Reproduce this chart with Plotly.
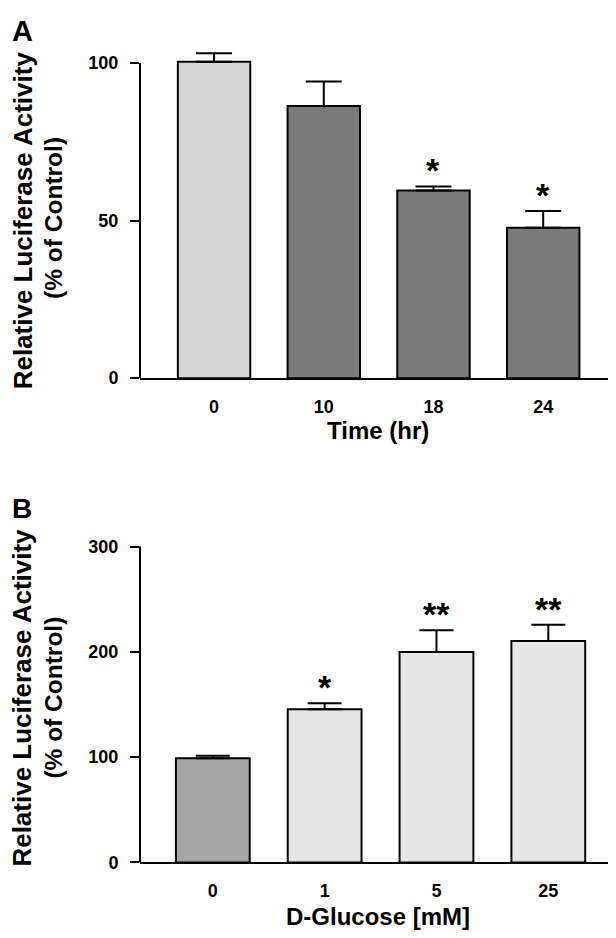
import plotly.graph_objects as go

# ---------------- data ----------------
time_labels = ["0", "10", "18", "24"]
luc_time = [100.4, 86.3, 59.5, 47.7]
luc_time_err = [2.7, 7.8, 1.3, 5.3]
time_sig = ["", "", "*", "*"]
time_colors = ["#d7d7d7", "#7a7a7a", "#7a7a7a", "#7a7a7a"]
time_yticks = [0, 50, 100]

glucose_labels = ["0", "1", "5", "25"]
luc_glucose = [98.9, 145.5, 199.9, 210.4]
luc_glucose_err = [2.5, 5.6, 20.5, 15.3]
glucose_sig = ["", "*", "**", "**"]
glucose_colors = ["#a6a6a6", "#e6e6e6", "#e6e6e6", "#e6e6e6"]
glucose_yticks = [0, 100, 200, 300]

FONT = "Liberation Sans, Arial, sans-serif"
W, H = 616, 938

fig = go.Figure()

fig.add_trace(go.Bar(
    x=time_labels, y=luc_time, xaxis="x", yaxis="y",
    marker=dict(color=time_colors, line=dict(color="black", width=2)),
    error_y=dict(type="data", array=luc_time_err, arrayminus=[0] * len(luc_time),
                 symmetric=False, color="black", thickness=2, width=18),
    showlegend=False, hoverinfo="x+y",
))
fig.add_trace(go.Bar(
    x=glucose_labels, y=luc_glucose, xaxis="x2", yaxis="y2",
    marker=dict(color=glucose_colors, line=dict(color="black", width=2)),
    error_y=dict(type="data", array=luc_glucose_err, arrayminus=[0] * len(luc_glucose),
                 symmetric=False, color="black", thickness=2, width=17),
    showlegend=False, hoverinfo="x+y",
))

tickfont = dict(family=FONT, size=18, color="black", weight="bold")

def px_x(v):
    return v / W

def px_y(v):
    return (H - v) / H

common_x = dict(type="category", showline=True, linecolor="black", linewidth=2,
                ticks="", tickfont=tickfont, showgrid=False, zeroline=False,
                ticklabelstandoff=11, fixedrange=True)
common_y = dict(showline=False, ticks="outside", ticklen=9, tickwidth=2,
                tickcolor="black", tickfont=tickfont, showgrid=False,
                zeroline=False, ticklabelstandoff=8, fixedrange=True)

fig.update_layout(
    width=W, height=H,
    margin=dict(l=0, r=0, t=0, b=0),
    paper_bgcolor="white", plot_bgcolor="white",
    bargap=0.34,
    font=dict(family=FONT, color="black"),
    xaxis=dict(common_x, domain=[px_x(132), px_x(612)], range=[-0.675, 3.70],
               anchor="y"),
    yaxis=dict(common_y, domain=[px_y(371.7), px_y(35.7)], range=[0, 105],
               tickvals=time_yticks, anchor="x"),
    xaxis2=dict(common_x, domain=[px_x(132), px_x(613)], range=[-0.651, 3.65],
                anchor="y2"),
    yaxis2=dict(common_y, domain=[px_y(863.3), px_y(537.3)], range=[0, 305],
                tickvals=glucose_yticks, anchor="x2"),
)

# y axis lines ending at the top tick
fig.add_shape(type="line", xref="x domain", yref="y", x0=0, x1=0,
              y0=time_yticks[0], y1=time_yticks[-1],
              line=dict(color="black", width=2))
fig.add_shape(type="line", xref="x2 domain", yref="y2", x0=0, x1=0,
              y0=glucose_yticks[0], y1=glucose_yticks[-1],
              line=dict(color="black", width=2))

ann = []
star_font = dict(family=FONT, size=34, color="black", weight="bold")
# significance stars (x given as category index)
for i, (v, e, s) in enumerate(zip(luc_time, luc_time_err, time_sig)):
    if s:
        ann.append(dict(x=i, y=v + e, xref="x", yref="y", text=s, showarrow=False,
                        yanchor="bottom", yshift=-5, font=star_font))
for i, (v, e, s) in enumerate(zip(luc_glucose, luc_glucose_err, glucose_sig)):
    if s:
        ann.append(dict(x=i, y=v + e, xref="x2", yref="y2", text=s, showarrow=False,
                        yanchor="bottom", yshift=-5, font=star_font))

t1_font = dict(family=FONT, size=26, color="black", weight="bold")
t2_font = dict(family=FONT, size=24.5, color="black", weight="bold")
# y titles
for yc1, yc2 in [(212, 209), (696.5, 696)]:
    ann.append(dict(x=px_x(14.5), y=px_y(yc1), xref="paper", yref="paper",
                    text="Relative Luciferase Activity", textangle=-90, showarrow=False,
                    xanchor="center", yanchor="middle", font=t1_font))
    ann.append(dict(x=px_x(46), y=px_y(yc2), xref="paper", yref="paper",
                    text="(% of Control)", textangle=-90, showarrow=False,
                    xanchor="center", yanchor="middle", font=t2_font))
# x titles
xt_font = dict(family=FONT, size=24, color="black", weight="bold")
ann.append(dict(x=px_x(370), y=px_y(425), xref="paper", yref="paper", text="Time (hr)",
                showarrow=False, xanchor="center", yanchor="middle", font=xt_font))
ann.append(dict(x=px_x(370), y=px_y(918), xref="paper", yref="paper", text="D-Glucose [mM]",
                showarrow=False, xanchor="center", yanchor="middle", font=xt_font))
# panel letters
ann.append(dict(x=px_x(2), y=px_y(1.5), xref="paper", yref="paper", text="A",
                showarrow=False, xanchor="left", yanchor="top",
                font=dict(family=FONT, size=29, color="black", weight="bold")))
ann.append(dict(x=px_x(2), y=px_y(486.5), xref="paper", yref="paper", text="B",
                showarrow=False, xanchor="left", yanchor="top",
                font=dict(family=FONT, size=28, color="black", weight="bold")))

fig.update_layout(annotations=ann)

fig.write_html("out.html")
